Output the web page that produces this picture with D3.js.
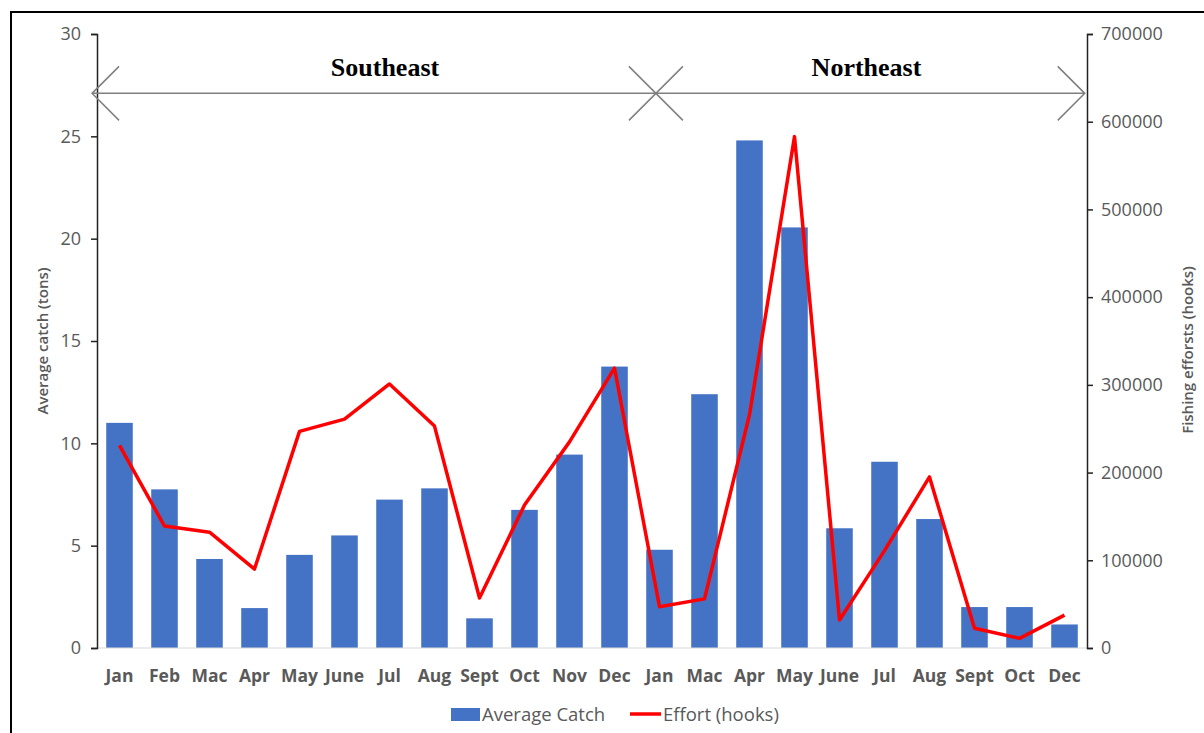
<!DOCTYPE html>
<html>
<head>
<meta charset="utf-8">
<script src="https://cdn.jsdelivr.net/npm/d3@7"></script>
<style>
  body { margin: 0; background: #fff; }
  svg { display: block; font-family: 'Open Sans', sans-serif; }
</style>
</head>
<body>
<svg width="1204" height="733"></svg>
<script>
// month labels along the x axis (two regions, 22 bars)
const months = ['Jan', 'Feb', 'Mac', 'Apr', 'May', 'June', 'Jul', 'Aug', 'Sept', 'Oct', 'Nov', 'Dec',
    'Jan', 'Mac', 'Apr', 'May', 'June', 'Jul', 'Aug', 'Sept', 'Oct', 'Dec'];
// average catch in tons (left axis)
const catchTons = [11.0, 7.75, 4.35, 1.95, 4.55, 5.5, 7.25, 7.8, 1.45, 6.75, 9.45, 13.75,
    4.8, 12.4, 24.8, 20.55, 5.85, 9.1, 6.3, 2.0, 2.0, 1.15];
// fishing effort in hooks (right axis)
const effortHooks = [231000, 139000, 132000, 90000, 247000, 261000, 301000, 253000, 57000, 163000, 235000, 319000,
    47000, 56000, 266000, 583000, 32000, 111000, 195000, 22500, 11000, 37500];
const leftTicks = [0, 5, 10, 15, 20, 25, 30];
const rightTicks = [0, 100000, 200000, 300000, 400000, 500000, 600000, 700000];
// region labels, placed in category-index units
const regions = [{ name: 'Southeast', at: 6.4 }, { name: 'Northeast', at: 17.1 }];

const svg = d3.select('svg');
const plotLeft = 97, plotRight = 1087, plotTop = 34, plotBottom = 648;

// outer frame
svg.append('rect')
    .attr('x', 11).attr('y', 12)
    .attr('width', 1210).attr('height', 740)
    .attr('fill', 'none').attr('stroke', '#000').attr('stroke-width', 2);

const x = d3.scaleBand().domain(d3.range(months.length)).range([plotLeft, plotRight]).paddingInner(0.41).paddingOuter(0.205);
const xi = d3.scaleLinear().domain([0, months.length]).range([plotLeft, plotRight]);
const y = d3.scaleLinear().domain([0, 30]).range([plotBottom, plotTop]);
const y2 = d3.scaleLinear().domain([0, 700000]).range([plotBottom, plotTop]);

// bars
svg.append('g').selectAll('rect')
    .data(catchTons)
    .join('rect')
    .attr('x', (d, i) => x(i))
    .attr('y', d => y(d))
    .attr('width', x.bandwidth())
    .attr('height', d => y(0) - y(d))
    .attr('fill', '#4472C4');

// baseline
svg.append('line')
    .attr('x1', plotLeft).attr('x2', plotRight)
    .attr('y1', y(0)).attr('y2', y(0))
    .attr('stroke', '#d9d9d9').attr('stroke-width', 1.2);

// effort line
const line = d3.line()
    .x((d, i) => x(i) + x.bandwidth() / 2)
    .y(d => y2(d));
svg.append('path')
    .datum(effortHooks)
    .attr('d', line)
    .attr('fill', 'none')
    .attr('stroke', '#ff0000')
    .attr('stroke-width', 3.5)
    .attr('stroke-linejoin', 'round');

// left axis
const gl = svg.append('g')
    .attr('transform', 'translate(' + plotLeft + ',0)')
    .call(d3.axisLeft(y).tickValues(leftTicks).tickSize(6).tickPadding(10))
    .attr('font-family', null);
gl.select('.domain').attr('stroke', '#222').attr('stroke-width', 1.5);
gl.selectAll('.tick line').attr('stroke', '#222').attr('stroke-width', 1.5);
gl.selectAll('.tick text').attr('fill', '#595959').style('font-size', '18px');

// right axis
const gr = svg.append('g')
    .attr('transform', 'translate(' + plotRight + ',0)')
    .call(d3.axisRight(y2).tickValues(rightTicks).tickSize(6).tickPadding(8).tickFormat(d3.format('d')))
    .attr('font-family', null);
gr.select('.domain').attr('stroke', '#222').attr('stroke-width', 1.5);
gr.selectAll('.tick line').attr('stroke', '#222').attr('stroke-width', 1.5);
gr.selectAll('.tick text').attr('fill', '#595959').style('font-size', '18px');

// x labels
svg.append('g').selectAll('text')
    .data(months)
    .join('text')
    .attr('x', (d, i) => x(i) + x.bandwidth() / 2)
    .attr('y', 682)
    .attr('text-anchor', 'middle')
    .attr('fill', '#595959')
    .style('font-size', '17.5px')
    .style('font-weight', 700)
    .text(d => d);

// axis titles
svg.append('text')
    .attr('transform', 'translate(48,' + (plotTop + plotBottom) / 2 + ') rotate(-90)')
    .attr('text-anchor', 'middle')
    .attr('fill', '#595959')
    .style('font-size', '15px')
    .style('font-weight', 600)
    .text('Average catch (tons)');

svg.append('text')
    .attr('transform', 'translate(1193,' + (plotTop + plotBottom + 18) / 2 + ') rotate(-90)')
    .attr('text-anchor', 'middle')
    .attr('fill', '#595959')
    .style('font-size', '15px')
    .style('font-weight', 600)
    .text('Fishing efforsts (hooks)');

// region arrows
const ay = y(27.1);
const arm = 27;
const ann = svg.append('g').attr('stroke', '#7f7f7f').attr('stroke-width', 1.5).attr('fill', 'none');
const xl = xi(-0.11), xc = xi(12.42), xr = xi(21.95);
ann.append('line').attr('x1', xl).attr('x2', xr).attr('y1', ay).attr('y2', ay);
ann.append('path').attr('d', 'M' + (xl + arm) + ',' + (ay - arm) + 'L' + xl + ',' + ay + 'L' + (xl + arm) + ',' + (ay + arm));
ann.append('path').attr('d', 'M' + (xr - arm) + ',' + (ay - arm) + 'L' + xr + ',' + ay + 'L' + (xr - arm) + ',' + (ay + arm));
ann.append('line').attr('x1', xc - arm).attr('x2', xc + arm).attr('y1', ay - arm).attr('y2', ay + arm);
ann.append('line').attr('x1', xc - arm).attr('x2', xc + arm).attr('y1', ay + arm).attr('y2', ay - arm);

svg.append('g').selectAll('text')
    .data(regions)
    .join('text')
    .attr('x', d => xi(d.at))
    .attr('y', 76)
    .attr('text-anchor', 'middle')
    .attr('fill', '#000')
    .style('font-family', "'Liberation Serif', 'Times New Roman', serif")
    .style('font-size', '26px')
    .style('font-weight', 700)
    .text(d => d.name);

// legend
const lg = svg.append('g');
lg.append('rect').attr('x', 451).attr('y', 708).attr('width', 29).attr('height', 13).attr('fill', '#4472C4');
lg.append('text').attr('x', 482).attr('y', 721).attr('fill', '#595959').style('font-size', '18.5px').text('Average Catch');
lg.append('line').attr('x1', 630).attr('x2', 661).attr('y1', 714).attr('y2', 714).attr('stroke', '#ff0000').attr('stroke-width', 3.5);
lg.append('text').attr('x', 663).attr('y', 721).attr('fill', '#595959').style('font-size', '18.5px').text('Effort (hooks)');
</script>
</body>
</html>
